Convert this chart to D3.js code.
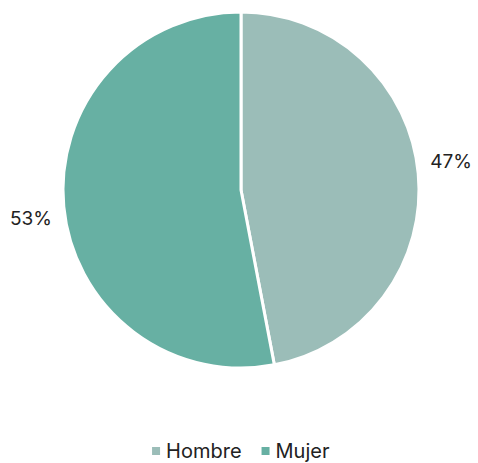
<!DOCTYPE html>
<html>
<head>
<meta charset="utf-8">
<script src="https://cdn.jsdelivr.net/npm/d3@7"></script>
<style>
  body { margin: 0; background: #fff; }
  svg { display: block; font-family: Inter, "DejaVu Sans", sans-serif; }
</style>
</head>
<body>
<svg id="chart" width="478" height="463"></svg>
<script>
const categories = ['Hombre', 'Mujer']
const values = [47, 53]
const colors = ['#9bbdb8', '#67b0a3']

function drawChart() {
  const svg = d3.select('#chart')
  const cx = 241
  const cy = 190
  const r = 178

  const data = categories.map((c, i) => ({ name: c, value: values[i], color: colors[i] }))

  const pie = d3.pie()
    .sort(null)
    .value(d => d.value)

  const arc = d3.arc()
    .innerRadius(0)
    .outerRadius(r)

  const g = svg.append('g')
    .attr('transform', `translate(${cx},${cy})`)

  const arcs = pie(data)

  g.selectAll('path')
    .data(arcs)
    .join('path')
    .attr('d', arc)
    .attr('fill', d => d.data.color)
    .attr('stroke', '#fff')
    .attr('stroke-width', 3)
    .attr('stroke-linejoin', 'round')

  // outside labels, no connectors
  const total = d3.sum(values)
  g.selectAll('text.lbl')
    .data(arcs)
    .join('text')
    .attr('class', 'lbl')
    .each(function(d) {
      const a = (d.startAngle + d.endAngle) / 2
      const s = Math.sin(a)
      const c = Math.cos(a)
      const rr = r + 12
      d3.select(this)
        .attr('x', s * rr)
        .attr('y', -c * rr * 1.6)
        .attr('dy', '0.35em')
        .attr('text-anchor', s >= 0 ? 'start' : 'end')
    })
    .attr('font-size', 19)
    .attr('fill', '#222')
    .text(d => Math.round(d.data.value / total * 100) + '%')

  // legend
  const legend = svg.append('g')
  const items = legend.selectAll('g')
    .data(data)
    .join('g')

  items.append('rect')
    .attr('width', 8)
    .attr('height', 8)
    .attr('y', -11)
    .attr('fill', d => d.color)

  items.append('text')
    .attr('x', 14)
    .attr('font-size', 20)
    .attr('fill', '#222')
    .text(d => d.name)

  let x = 0
  items.each(function() {
    d3.select(this).attr('transform', `translate(${x},0)`)
    x += this.getBBox().width + 20
  })
  const w = x - 20
  legend.attr('transform', `translate(${cx - w / 2},458)`)
}

document.addEventListener('DOMContentLoaded', drawChart, false);
</script>
</body>
</html>
